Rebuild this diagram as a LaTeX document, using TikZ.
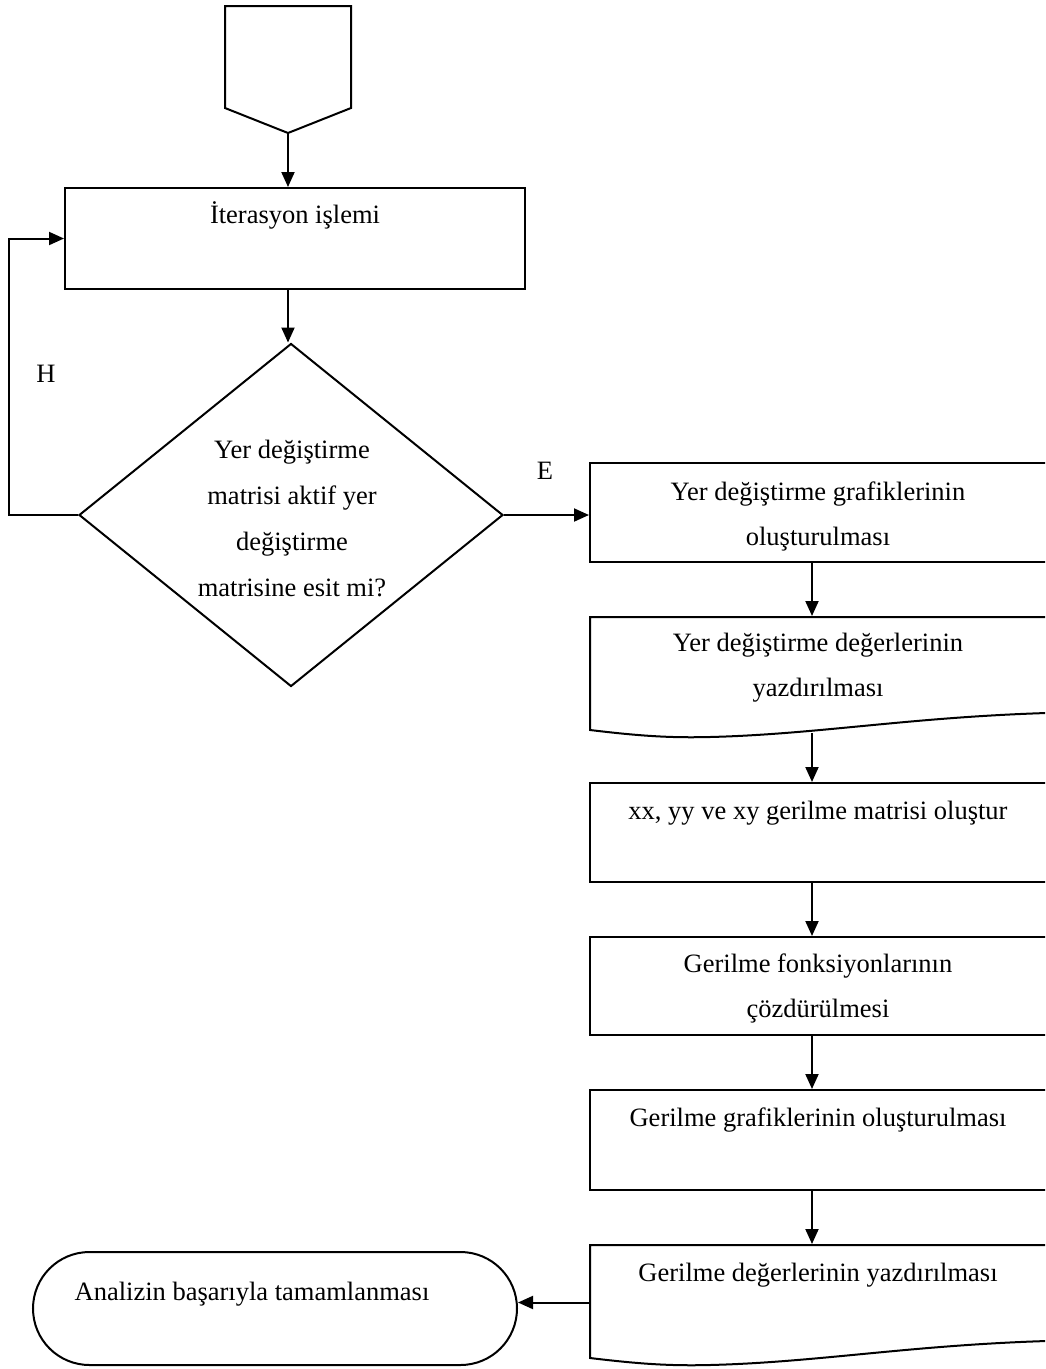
\documentclass[tikz,border=0pt]{standalone}
\usepackage{fontspec}
\setmainfont{Liberation Serif}
\usetikzlibrary{arrows.meta,shapes.geometric,shapes.misc}

\begin{document}
\begin{tikzpicture}[x=1pt,y=-1pt,line width=2pt,
  ok/.style={-{Triangle[length=15pt,width=13pt]}},
  kutu/.style={draw,rectangle,inner sep=0pt,minimum width=#1,minimum height=100pt},
  belge/.style={rectangle,inner sep=0pt,minimum width=510pt,minimum height=115pt},
  yazi/.style={font=\fontsize{26.5}{46}\selectfont,inner sep=0pt,anchor=base}]
\useasboundingbox (0,0) rectangle (1045,1369);
\clip (0,0) rectangle (1045,1369);
% baslangic
\draw (225,6) -- (351,6) -- (351,108) -- (288,133) coordinate (basla) -- (225,108) -- cycle;
\node[kutu=460pt,minimum height=101pt] (iter) at (295,238.5) {};
\node[yazi] (iter-t) at (295,223) {İterasyon işlemi};
\node[draw,diamond,inner sep=0pt,minimum width=424pt,minimum height=343pt] (karar) at (291,515) {};
\foreach \t [count=\i] in {Yer değiştirme,matrisi aktif yer,değiştirme,matrisine esit mi?} {
   \node[yazi] (karar-\i) at (292,458+46.3*\i-46.3) {\t};
}
\node[yazi] (h) at (46,382) {H};
\node[yazi] (e) at (545,479) {E};
% sag sutun
\node[kutu=510pt,minimum height=99pt] (b1) at (845,512.5) {};
\node[belge] (d1) at (845,674.5) {};
\node[kutu=510pt,minimum height=99pt] (b3) at (845,832.5) {};
\node[kutu=510pt,minimum height=98pt] (b4) at (845,986) {};
\node[kutu=510pt] (b5) at (845,1140) {};
\node[belge] (d6) at (845,1302.5) {};
\foreach \y in {617,1245} {
   \draw (1100,\y) -- (590,\y) -- (590,\y+113)
      .. controls (640,\y+119) and (670,\y+121) .. (710,\y+120)
      .. controls (830,\y+117) and (930,\y+96) .. (1100,\y+95);
}
\node[yazi] (b1-t) at (818,500) {Yer değiştirme grafiklerinin};
\node[yazi] (b1-u) at (818,545) {oluşturulması};
\node[yazi] (d1-t) at (818,651) {Yer değiştirme değerlerinin};
\node[yazi] (d1-u) at (818,696) {yazdırılması};
\node[yazi] (b3-t) at (818,819) {xx, yy ve xy gerilme matrisi oluştur};
\node[yazi] (b4-t) at (818,972) {Gerilme fonksiyonlarının};
\node[yazi] (b4-u) at (818,1017) {çözdürülmesi};
\node[yazi] (b5-t) at (818,1126) {Gerilme grafiklerinin oluşturulması};
\node[yazi] (d6-t) at (818,1281) {Gerilme değerlerinin yazdırılması};
\node[draw,rounded rectangle,inner sep=0pt,minimum width=484pt,minimum height=113pt] (bitis) at (275,1308.5) {};
\node[yazi] (bitis-t) at (252,1300) {Analizin başarıyla tamamlanması};
\coordinate (eks) at (812,0);
% oklar
\draw[ok] (basla) -- (basla |- iter.north);
\draw[ok] (iter.south -| basla) -- (karar.north -| basla);
\draw[ok] (karar.west) -- ++(-69,0) |- (iter.west);
\draw[ok] (karar.east) -- (karar.east -| b1.west);
\draw[ok] (b1.south -| eks) -- (d1.north -| eks);
\draw[ok] (d1.south -| eks) -- (b3.north -| eks);
\draw[ok] (b3.south -| eks) -- (b4.north -| eks);
\draw[ok] (b4.south -| eks) -- (b5.north -| eks);
\draw[ok] (b5.south -| eks) -- (d6.north -| eks);
\draw[ok] (d6.west) -- (d6.west -| bitis.east);
\end{tikzpicture}
\end{document}
